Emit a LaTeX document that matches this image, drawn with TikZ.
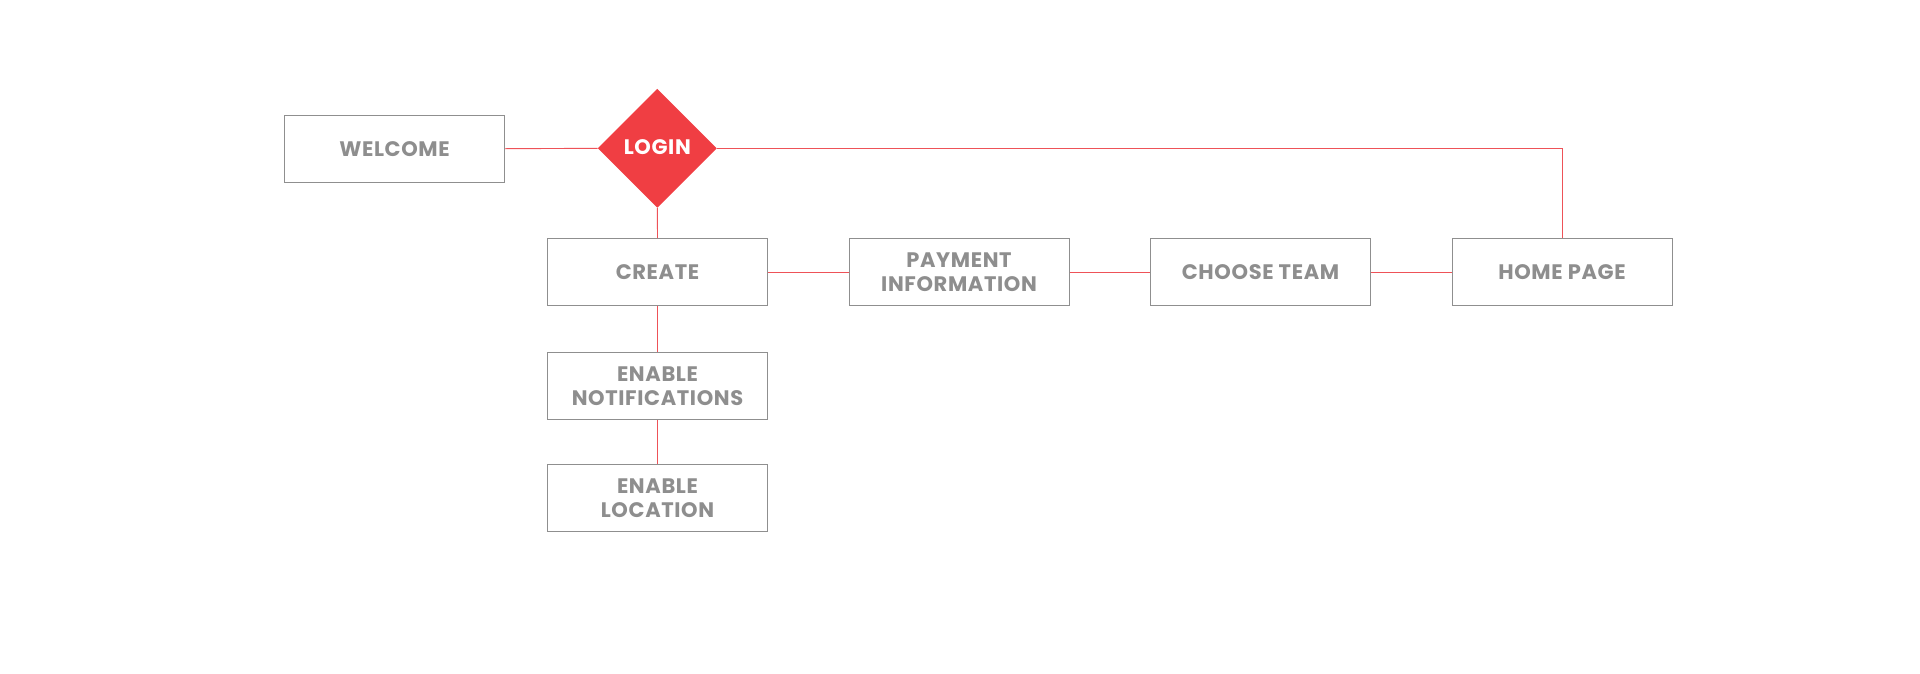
\documentclass[tikz,border=0pt]{standalone}
\usepackage{fontspec}
\setmainfont{Poppins}[LetterSpace=3]
\usetikzlibrary{shapes.geometric}
\definecolor{boxgray}{HTML}{8F8F8F}
\definecolor{txtgray}{HTML}{8E8E8E}
\definecolor{loginred}{HTML}{F03E43}
\definecolor{linered}{HTML}{EE5258}
\tikzset{
  screen/.style={draw=boxgray, line width=1pt, fill=white, minimum width=220pt, minimum height=67pt,
    inner sep=0pt, align=center, text=txtgray, font=\fontsize{21}{24}\selectfont\bfseries},
  decision/.style={diamond, aspect=1, fill=loginred, minimum size=119pt, inner sep=0pt,
    text=white, font=\fontsize{21}{24}\selectfont\bfseries},
  link/.style={draw=linered, line width=0.9pt},
}
\begin{document}
\begin{tikzpicture}[x=1pt,y=-1pt]
\useasboundingbox (0,0) rectangle (1920,673);
\node[screen] (welcome) at (394.5,148.7) {WELCOME};
\node[decision] (login) at (657.3,148.3) {\raisebox{3pt}{LOGIN}};
\node[screen] (create) at (657.5,272) {CREATE};
\node[screen] (payment) at (959,272) {PAYMENT\\INFORMATION};
\node[screen] (team) at (1260.5,272) {CHOOSE TEAM};
\node[screen] (home) at (1562,272) {HOME PAGE};
\node[screen] (notif) at (657.5,385.8) {ENABLE\\NOTIFICATIONS};
\node[screen] (loc) at (657.5,497.8) {ENABLE\\LOCATION};
\draw[link] (welcome.east) -- (login.west);
\draw[link] (login.east) -| (home.north);
\draw[link] (login.south) -- (create.north);
\draw[link] (create.east) -- (payment.west);
\draw[link] (payment.east) -- (team.west);
\draw[link] (team.east) -- (home.west);
\draw[link] (create.south) -- (notif.north);
\draw[link] (notif.south) -- (loc.north);
\end{tikzpicture}
\end{document}
